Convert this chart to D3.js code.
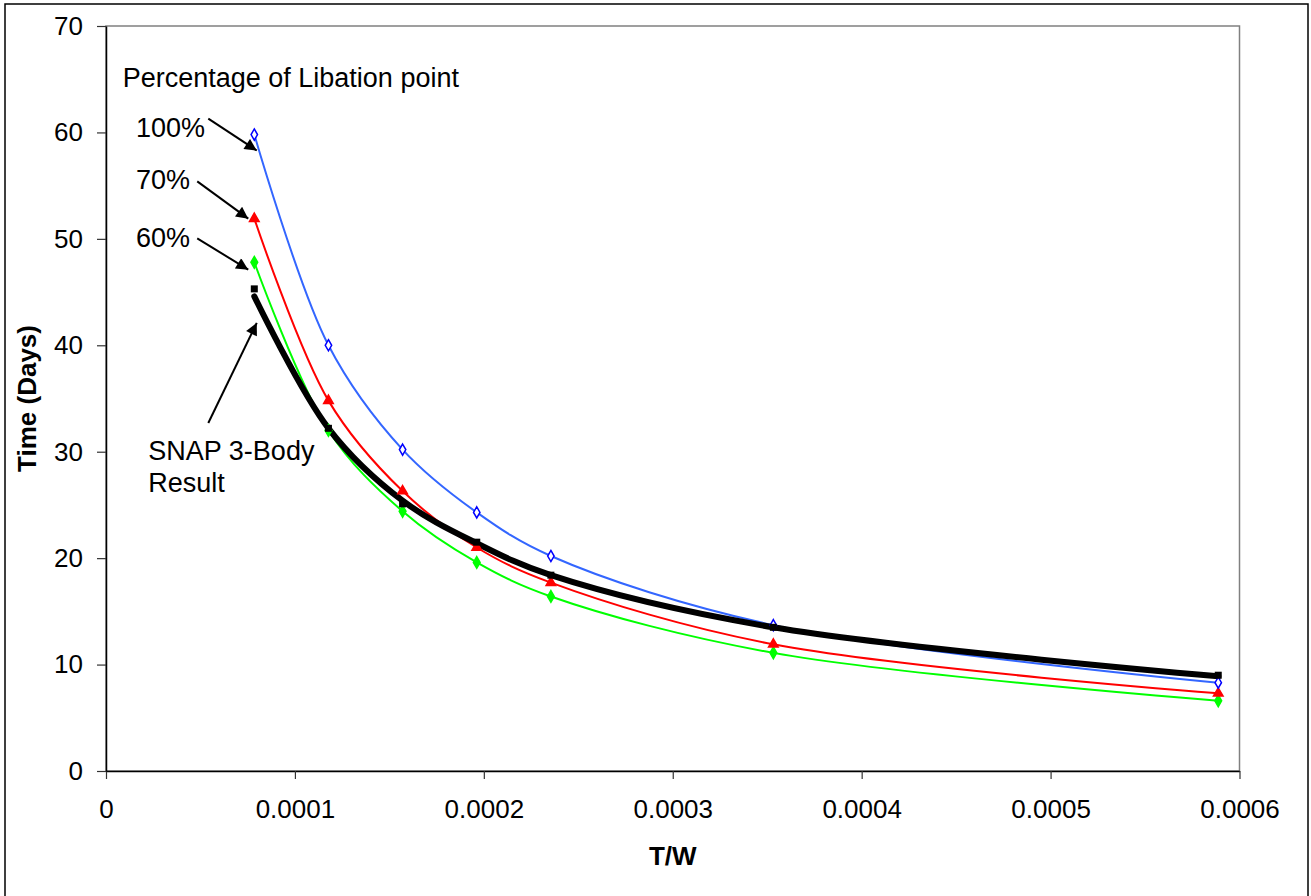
<!DOCTYPE html>
<html>
<head>
<meta charset="utf-8">
<script src="https://cdn.jsdelivr.net/npm/d3@7"></script>
<style>
  body { margin: 0; background: #fff; }
  text { font-family: "Liberation Sans", Arial, sans-serif; }
</style>
</head>
<body>
<div id="chart"></div>
<script>
// T/W values shared by all series
var thrustToWeight = [0.0000785, 0.00011775, 0.000157, 0.00019625, 0.0002355, 0.00035325, 0.00058875];

// time (days) per percentage of libation point
var pct100 = [59.8, 40.0, 30.2, 24.3, 20.2, 13.7, 8.3];
var pct70  = [51.9, 34.8, 26.3, 21.0, 17.7, 11.9, 7.3];
var pct60  = [47.8, 32.0, 24.4, 19.6, 16.4, 11.1, 6.6];

// SNAP 3-body result: markers and the thick smoothed curve
var snapPoints = [45.3, 32.2, 25.1, 21.5, 18.4, 13.5, 9.0];
var snapCurve  = [44.6, 32.2, 25.4, 21.4, 18.4, 13.5, 8.9];

var yTicks = [0, 10, 20, 30, 40, 50, 60, 70];
var xTicks = [0, 0.0001, 0.0002, 0.0003, 0.0004, 0.0005, 0.0006];

var W = 1311, H = 896;
var fontSize = 26;
var noteSize = 27;

var svg = d3.select("#chart").append("svg")
    .attr("width", W)
    .attr("height", H);

svg.append("defs").append("marker")
    .attr("id", "arrow")
    .attr("viewBox", "0 0 10 10")
    .attr("refX", 10).attr("refY", 5)
    .attr("markerWidth", 7).attr("markerHeight", 6)
    .attr("markerUnits", "strokeWidth")
    .attr("orient", "auto")
  .append("path")
    .attr("d", "M0,0 L10,5 L0,10 z")
    .attr("fill", "#000");

// outer chart border (bottom edge falls just outside the picture)
svg.append("rect")
    .attr("x", 5).attr("y", 4)
    .attr("width", 1303).attr("height", 896)
    .attr("fill", "none")
    .attr("stroke", "#000")
    .attr("stroke-width", 1.5);

var x = d3.scaleLinear().domain([0, 0.0006]).range([106, 1239.5]);
var y = d3.scaleLinear().domain([0, 70]).range([771, 26]);

// plot area frame (grey)
svg.append("rect")
    .attr("x", x(0)).attr("y", y(70))
    .attr("width", x(0.0006) - x(0)).attr("height", y(0) - y(70))
    .attr("fill", "none")
    .attr("stroke", "#808080")
    .attr("stroke-width", 1.5);

var xAxis = d3.axisBottom(x)
    .tickValues(xTicks)
    .tickSize(8)
    .tickPadding(21)
    .tickSizeOuter(0)
    .tickFormat(function(d){ return d === 0 ? "0" : d.toFixed(4); });

var yAxis = d3.axisLeft(y)
    .tickValues(yTicks)
    .tickSize(9)
    .tickPadding(14)
    .tickSizeOuter(0)
    .tickFormat(d3.format("d"));

var gx = svg.append("g")
    .attr("transform", "translate(0," + y(0) + ")")
    .call(xAxis);
var gy = svg.append("g")
    .attr("transform", "translate(" + x(0) + ",0)")
    .call(yAxis);

[gx, gy].forEach(function(g){
    g.select(".domain").attr("stroke", "#000").attr("stroke-width", 1.5);
    g.selectAll(".tick line").attr("stroke", "#333").attr("stroke-width", 1.2);
    g.selectAll(".tick text")
        .attr("fill", "#000")
        .attr("font-size", fontSize)
        .attr("font-family", "Liberation Sans, Arial, sans-serif");
});

// axis titles
svg.append("text")
    .attr("x", (x(0) + x(0.0006)) / 2)
    .attr("y", 865)
    .attr("text-anchor", "middle")
    .attr("font-size", fontSize)
    .attr("font-weight", "bold")
    .text("T/W");

svg.append("text")
    .attr("transform", "translate(36," + (y(0) + y(70)) / 2 + ") rotate(-90)")
    .attr("text-anchor", "middle")
    .attr("font-size", fontSize)
    .attr("font-weight", "bold")
    .text("Time (Days)");

function pairs(values) {
    return thrustToWeight.map(function(t, i){ return [t, values[i]]; });
}

var line = d3.line()
    .x(function(d){ return x(d[0]); })
    .y(function(d){ return y(d[1]); })
    .curve(d3.curveCatmullRom.alpha(0.5));

var series = [
    { name: "60%",  values: pct60,  line: "#00FF00", mark: "#00FF00", fill: "#00FF00", shape: d3.symbolDiamond, size: 40 },
    { name: "70%",  values: pct70,  line: "#FF0000", mark: "#FF0000", fill: "#FF0000", shape: d3.symbolTriangle, size: 40 },
    { name: "100%", values: pct100, line: "#3366FF", mark: "#0000FF", fill: "#fff",    shape: d3.symbolDiamond, size: 36 }
];

var plot = svg.append("g").attr("class", "series");

series.forEach(function(s){
    plot.append("path")
        .datum(pairs(s.values))
        .attr("fill", "none")
        .attr("stroke", s.line)
        .attr("stroke-width", 2)
        .attr("d", line);
});

// SNAP thick curve
plot.append("path")
    .datum(pairs(snapCurve))
    .attr("fill", "none")
    .attr("stroke", "#000")
    .attr("stroke-width", 6)
    .attr("stroke-linecap", "round")
    .attr("d", line);

series.forEach(function(s){
    plot.selectAll(null)
        .data(pairs(s.values))
        .enter()
        .append("path")
        .attr("transform", function(d){ return "translate(" + x(d[0]) + "," + y(d[1]) + ")"; })
        .attr("d", d3.symbol().type(s.shape).size(s.size))
        .attr("fill", s.fill)
        .attr("stroke", s.mark)
        .attr("stroke-width", 1.5);
});

plot.selectAll(null)
    .data(pairs(snapPoints))
    .enter()
    .append("rect")
    .attr("x", function(d){ return x(d[0]) - 3.5; })
    .attr("y", function(d){ return y(d[1]) - 3.5; })
    .attr("width", 7)
    .attr("height", 7)
    .attr("fill", "#000");

// annotations (anchored in data units)
var noteTexts = [
    { t: "Percentage of Libation point", x: 0.00000884, y: 64.3 },
    { t: "100%", x: 0.0000159, y: 59.6 },
    { t: "70%",  x: 0.0000159, y: 54.7 },
    { t: "60%",  x: 0.0000159, y: 49.2 },
    { t: "SNAP 3-Body", x: 0.0000224, y: 29.2 },
    { t: "Result", x: 0.0000224, y: 26.2 }
];
var noteArrows = [
    { x1: 0.00005415, y1: 61.3, x2: 0.0000798, y2: 58.3 },
    { x1: 0.0000483,  y1: 55.4, x2: 0.0000753, y2: 51.9 },
    { x1: 0.0000483,  y1: 50.05, x2: 0.0000753, y2: 47.1 },
    { x1: 0.00005415, y1: 32.7, x2: 0.0000798, y2: 42.1 }
];

svg.selectAll(".note")
    .data(noteTexts)
    .enter()
    .append("text")
    .attr("class", "note")
    .attr("x", function(d){ return x(d.x); })
    .attr("y", function(d){ return y(d.y); })
    .attr("font-size", noteSize)
    .attr("fill", "#000")
    .text(function(d){ return d.t; });

svg.selectAll(".arrow")
    .data(noteArrows)
    .enter()
    .append("line")
    .attr("class", "arrow")
    .attr("x1", function(d){ return x(d.x1); })
    .attr("y1", function(d){ return y(d.y1); })
    .attr("x2", function(d){ return x(d.x2); })
    .attr("y2", function(d){ return y(d.y2); })
    .attr("stroke", "#000")
    .attr("stroke-width", 2)
    .attr("marker-end", "url(#arrow)");
</script>
</body>
</html>
